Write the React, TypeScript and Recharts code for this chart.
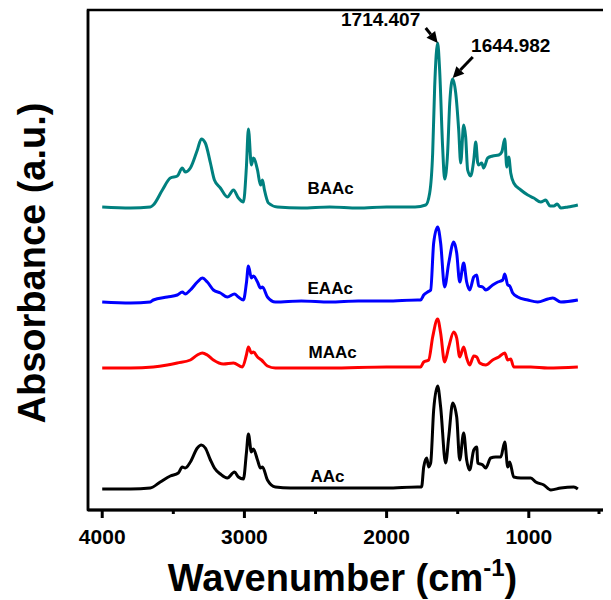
import React from 'react';
import {
  LineChart, Line, XAxis, YAxis, ReferenceArea, ReferenceDot, ReferenceLine,
} from 'recharts';

// wavenumbers (cm-1) and absorbance (a.u., stacked offsets)
const baacWn = [4000, 3800, 3662, 3641, 3577, 3521, 3472, 3437, 3416, 3380, 3331, 3303, 3275, 3239, 3211, 3169, 3120, 3077, 3042, 3007, 2986, 2972, 2951, 2937, 2908, 2887, 2873, 2859, 2831, 2768, 2600, 2400, 2200, 2000, 1800, 1725, 1697, 1676, 1662, 1641, 1627, 1606, 1592, 1571, 1556, 1535, 1514, 1493, 1479, 1458, 1444, 1430, 1409, 1387, 1373, 1359, 1352, 1331, 1317, 1289, 1254, 1211, 1190, 1169, 1155, 1141, 1127, 1106, 1056, 1007, 965, 916, 880, 866, 850, 824, 800, 775, 725, 655];
const baacAbs = [3.03, 3.02, 3.03, 3.05, 3.2, 3.32, 3.34, 3.42, 3.38, 3.42, 3.6, 3.71, 3.67, 3.47, 3.3, 3.22, 3.13, 3.2, 3.12, 3.08, 3.43, 3.81, 3.45, 3.52, 3.4, 3.25, 3.3, 3.2, 3.07, 3.03, 3.02, 3.03, 3.02, 3.03, 3.03, 3.05, 3.17, 3.57, 4.23, 4.67, 4.4, 3.63, 3.31, 3.57, 4.07, 4.31, 4.17, 3.8, 3.47, 3.85, 3.73, 3.4, 3.34, 3.5, 3.68, 3.47, 3.45, 3.47, 3.42, 3.52, 3.54, 3.55, 3.58, 3.71, 3.43, 3.53, 3.37, 3.27, 3.2, 3.15, 3.12, 3.08, 3.1, 3.07, 3.04, 3.04, 3.06, 3.02, 3.03, 3.05];

const eaacWn = [4000, 3800, 3662, 3641, 3542, 3472, 3437, 3416, 3380, 3331, 3296, 3261, 3218, 3169, 3120, 3070, 3042, 3007, 2986, 2972, 2951, 2937, 2908, 2887, 2873, 2838, 2782, 2600, 2400, 2200, 2000, 1782, 1761, 1739, 1711, 1690, 1669, 1641, 1620, 1592, 1563, 1528, 1507, 1486, 1458, 1437, 1416, 1387, 1366, 1352, 1324, 1303, 1254, 1218, 1183, 1169, 1148, 1134, 1113, 1078, 1007, 937, 866, 831, 775, 655];
const eaacAbs = [2.08, 2.07, 2.08, 2.1, 2.13, 2.15, 2.18, 2.16, 2.2, 2.28, 2.32, 2.28, 2.2, 2.17, 2.13, 2.16, 2.13, 2.1, 2.27, 2.44, 2.32, 2.34, 2.28, 2.22, 2.23, 2.13, 2.08, 2.09, 2.08, 2.09, 2.09, 2.1, 2.1, 2.15, 2.18, 2.2, 2.67, 2.83, 2.67, 2.23, 2.47, 2.68, 2.57, 2.28, 2.47, 2.28, 2.2, 2.33, 2.35, 2.24, 2.23, 2.2, 2.25, 2.28, 2.3, 2.36, 2.25, 2.24, 2.17, 2.13, 2.1, 2.08, 2.11, 2.12, 2.08, 2.1];

const maacWn = [4000, 3800, 3641, 3542, 3472, 3380, 3331, 3296, 3261, 3218, 3148, 3077, 3014, 2986, 2972, 2951, 2937, 2908, 2880, 2838, 2782, 2400, 2000, 1761, 1739, 1704, 1676, 1641, 1620, 1592, 1563, 1528, 1507, 1486, 1458, 1437, 1416, 1387, 1366, 1345, 1303, 1254, 1211, 1169, 1148, 1127, 1106, 986, 866, 655];
const maacAbs = [1.42, 1.42, 1.43, 1.45, 1.47, 1.5, 1.55, 1.57, 1.55, 1.5, 1.46, 1.47, 1.43, 1.55, 1.63, 1.57, 1.58, 1.53, 1.5, 1.44, 1.42, 1.42, 1.43, 1.43, 1.48, 1.5, 1.73, 1.91, 1.77, 1.48, 1.63, 1.78, 1.72, 1.53, 1.63, 1.52, 1.45, 1.54, 1.53, 1.47, 1.45, 1.5, 1.53, 1.57, 1.5, 1.51, 1.43, 1.43, 1.42, 1.43];

const aacWn = [4000, 3800, 3662, 3592, 3521, 3465, 3437, 3416, 3380, 3331, 3303, 3275, 3239, 3211, 3169, 3120, 3070, 3042, 3007, 2986, 2972, 2951, 2937, 2908, 2887, 2873, 2838, 2782, 2676, 2400, 2000, 1782, 1754, 1739, 1718, 1704, 1690, 1669, 1641, 1620, 1585, 1563, 1535, 1507, 1486, 1458, 1437, 1416, 1387, 1366, 1359, 1324, 1303, 1268, 1233, 1197, 1169, 1148, 1134, 1106, 1056, 986, 951, 894, 845, 775, 683, 655];
const aacAbs = [0.21, 0.21, 0.22, 0.28, 0.34, 0.37, 0.43, 0.42, 0.48, 0.62, 0.65, 0.62, 0.5, 0.42, 0.36, 0.32, 0.38, 0.33, 0.31, 0.57, 0.76, 0.58, 0.61, 0.5, 0.42, 0.43, 0.3, 0.23, 0.22, 0.22, 0.22, 0.23, 0.23, 0.43, 0.52, 0.43, 0.47, 1.0, 1.24, 1.03, 0.47, 0.73, 1.07, 0.93, 0.5, 0.77, 0.5, 0.4, 0.6, 0.63, 0.47, 0.45, 0.42, 0.52, 0.53, 0.53, 0.68, 0.43, 0.48, 0.33, 0.32, 0.32, 0.28, 0.25, 0.2, 0.22, 0.23, 0.21];

const xTicks = [4000, 3500, 3000, 2500, 2000, 1500, 1000, 500];

const series = [
  { name: 'BAAc', wn: baacWn, abs: baacAbs, color: '#00807f', labelAt: [2556, 3.2] },
  { name: 'EAAc', wn: eaacWn, abs: eaacAbs, color: '#0000ff', labelAt: [2556, 2.2] },
  { name: 'MAAc', wn: maacWn, abs: maacAbs, color: '#ff0000', labelAt: [2549, 1.56] },
  { name: 'AAc', wn: aacWn, abs: aacAbs, color: '#000000', labelAt: [2535, 0.32] },
];

const FONT = '"Liberation Sans", Arial, sans-serif';

const zip = (wn: number[], abs: number[]) => wn.map((w, i) => ({ w, a: abs[i] }));

function XTick({ x, y, payload }: any) {
  const major = payload.value % 1000 === 0;
  return (
    <g>
      <line x1={x} x2={x} y1={y} y2={y + (major ? 8 : 4)} stroke="#000" strokeWidth={3} />
      {major && (
        <text x={x} y={y + 34} textAnchor="middle" fontFamily={FONT} fontWeight="bold" fontSize={21} fill="#000">
          {payload.value}
        </text>
      )}
    </g>
  );
}

function XTitle({ viewBox }: any) {
  const cx = viewBox.x + viewBox.width / 2 - 5;
  return (
    <text x={cx} y={viewBox.y + 81} textAnchor="middle" fontFamily={FONT} fontWeight="bold" fontSize={38} fill="#000">
      Wavenumber (cm<tspan dy={-15} fontSize={24}>-1</tspan><tspan dy={15}>)</tspan>
    </text>
  );
}

function YTitle({ viewBox }: any) {
  const cx = viewBox.x + 27;
  const cy = viewBox.y + viewBox.height / 2 + 3;
  return (
    <text x={cx} y={cy} transform={`rotate(-90 ${cx} ${cy})`} textAnchor="middle" dominantBaseline="middle"
      fontFamily={FONT} fontWeight="bold" fontSize={38} fill="#000">
      Absorbance (a.u.)
    </text>
  );
}

function Arrow(props: any) {
  const { x1, y1, x2, y2 } = props;
  const ang = Math.atan2(y2 - y1, x2 - x1);
  const len = 11;
  const w = 5.5;
  const bx = x2 - len * Math.cos(ang);
  const by = y2 - len * Math.sin(ang);
  const px = -Math.sin(ang) * w;
  const py = Math.cos(ang) * w;
  return (
    <g>
      <line x1={x1} y1={y1} x2={bx} y2={by} stroke="#000" strokeWidth={3} />
      <polygon points={`${x2},${y2} ${bx + px},${by + py} ${bx - px},${by - py}`} fill="#000" />
    </g>
  );
}

const textShape = (txt: string, size: number, anchor: string) => (p: any) => (
  <text x={p.cx} y={p.cy} textAnchor={anchor} dominantBaseline="middle" fontFamily={FONT} fontWeight="bold" fontSize={size} fill="#000">
    {txt}
  </text>
);

export default function App() {
  return (
    <LineChart width={603} height={592} margin={{ top: 2, right: 4, bottom: 0, left: 0 }}>
      <XAxis dataKey="w" type="number" domain={[450, 4100]} reversed ticks={xTicks} allowDataOverflow
        axisLine={{ stroke: '#000', strokeWidth: 3 }} tickLine={false} tickSize={0} tickMargin={0}
        tick={<XTick />} height={90} label={{ content: <XTitle /> }} />
      <YAxis type="number" domain={[0, 5]} width={80} tick={false} tickLine={false}
        axisLine={{ stroke: '#000', strokeWidth: 2.5 }} label={{ content: <YTitle /> }} />
      <ReferenceArea x1={4100} x2={450} y1={0} y2={5} fill="none" stroke="#000" strokeWidth={2.5} />
      {series.map((s) => (
        <Line key={s.name} data={zip(s.wn, s.abs)} dataKey="a" type="monotone" stroke={s.color}
          strokeWidth={3} dot={false} isAnimationActive={false} />
      ))}
      {series.map((s) => (
        <ReferenceDot key={s.name + '-lbl'} x={s.labelAt[0]} y={s.labelAt[1]} r={0}
          shape={textShape(s.name, 17, 'start')} />
      ))}
      <ReferenceDot x={2042} y={4.89} r={0} shape={textShape('1714.407', 19, 'middle')} />
      <ReferenceDot x={1127} y={4.63} r={0} shape={textShape('1644.982', 19, 'middle')} />
      <ReferenceLine segment={[{ x: 1725, y: 4.82 }, { x: 1641, y: 4.67 }]} shape={<Arrow />} />
      <ReferenceLine segment={[{ x: 1394, y: 4.53 }, { x: 1535, y: 4.32 }]} shape={<Arrow />} />
    </LineChart>
  );
}
